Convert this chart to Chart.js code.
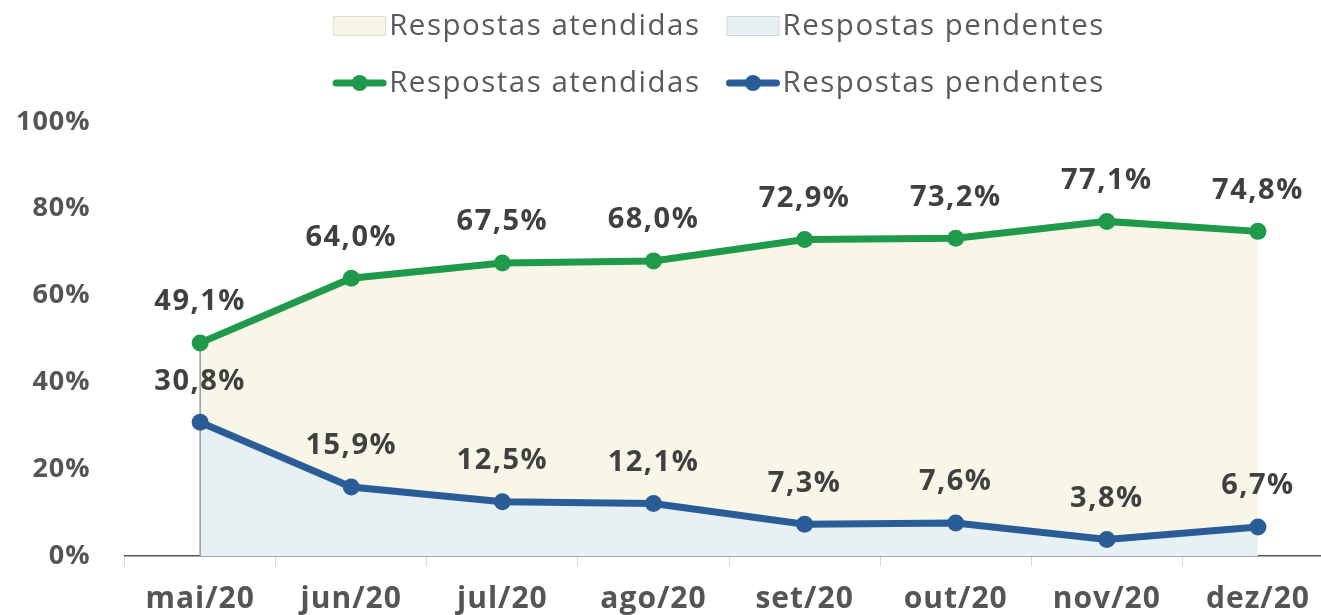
<!DOCTYPE html>
<html lang="pt-BR">

<head>
  <meta charset="UTF-8" />
  <title>Respostas atendidas x pendentes</title>
  <script src="https://cdn.jsdelivr.net/npm/chart.js"></script>
  <style>
    html,
    body {
      margin: 0;
      padding: 0;
      overflow: hidden;
      background: #fff;
    }
  </style>
</head>

<body>
  <canvas id="myChart01" width="1342" height="615"></canvas>

  <script>
    // dados
    const meses = ["mai/20", "jun/20", "jul/20", "ago/20", "set/20", "out/20", "nov/20", "dez/20"];
    const atendidas = [49.1, 64.0, 67.5, 68.0, 72.9, 73.2, 77.1, 74.8];
    const pendentes = [30.8, 15.9, 12.5, 12.1, 7.3, 7.6, 3.8, 6.7];
    const yTicks = [0, 20, 40, 60, 80, 100];

    const verde = "#1f9a4a";
    const azul = "#2a5d98";
    const areaAmarela = "#f8f6e6";
    const areaAzul = "#e7f0f2";
    const fonte = "'Open Sans', 'Noto Sans', sans-serif";

    function fmt(v) {
      return v.toFixed(1).replace(".", ",") + "%";
    }

    // legenda desenhada a mao (2 linhas)
    const legendaItens = [
      [
        { text: "Respostas atendidas", tipo: "box", cor: areaAmarela },
        { text: "Respostas pendentes", tipo: "box", cor: areaAzul },
      ],
      [
        { text: "Respostas atendidas", tipo: "linha", cor: verde },
        { text: "Respostas pendentes", tipo: "linha", cor: azul },
      ],
    ];

    // espacamento de letras (fonte original mais larga)
    const espacoPlugin = {
      id: "espacoPlugin",
      beforeInit(chart) {
        chart.ctx.letterSpacing = "1px";
      },
      beforeDraw(chart) {
        chart.ctx.letterSpacing = "1px";
      },
    };

    const legendaPlugin = {
      id: "legendaPlugin",
      afterDraw(chart) {
        const ctx = chart.ctx;
        ctx.save();
        ctx.font = "29.5px " + fonte;
        ctx.letterSpacing = "1.5px";
        ctx.textBaseline = "middle";
        ctx.textAlign = "left";
        const rowsY = [26, 83];
        const marker = 53;
        const gapTxt = 3;
        const gapItem = 26;
        const cx = 719;
        legendaItens.forEach((row, r) => {
          let total = 0;
          row.forEach((it, i) => {
            it.w = ctx.measureText(it.text).width;
            total += marker + gapTxt + it.w + (i > 0 ? gapItem : 0);
          });
          let x = cx - total / 2;
          const y = rowsY[r];
          row.forEach((it) => {
            if (it.tipo === "box") {
              ctx.fillStyle = it.cor;
              ctx.fillRect(x, y - 10, marker, 20);
              ctx.strokeStyle = "rgba(0,0,0,0.10)";
              ctx.lineWidth = 1;
              ctx.strokeRect(x + 0.5, y - 9.5, marker - 1, 19);
            } else {
              ctx.strokeStyle = it.cor;
              ctx.lineWidth = 7;
              ctx.lineCap = "round";
              ctx.beginPath();
              ctx.moveTo(x + 3, y);
              ctx.lineTo(x + marker - 3, y);
              ctx.stroke();
              ctx.fillStyle = it.cor;
              ctx.beginPath();
              ctx.arc(x + marker / 2, y, 8, 0, Math.PI * 2);
              ctx.fill();
            }
            ctx.fillStyle = "#5a5a5a";
            ctx.fillText(it.text, x + marker + gapTxt, y + 1);
            x += marker + gapTxt + it.w + gapItem;
          });
        });
        ctx.restore();
      },
    };

    // linha cinza vertical no primeiro ponto
    const bordaPlugin = {
      id: "bordaPlugin",
      beforeDatasetDraw(chart, args) {
        if (args.index !== 3) return;
        const ctx = chart.ctx;
        const x = chart.scales.x.getPixelForValue(0);
        const yTop = chart.scales.y.getPixelForValue(atendidas[0]);
        ctx.save();
        ctx.strokeStyle = "#9a9a9a";
        ctx.lineWidth = 1.5;
        ctx.beginPath();
        ctx.moveTo(x, yTop);
        ctx.lineTo(x, chart.chartArea.bottom);
        ctx.stroke();
        ctx.restore();
      },
    };

    // rotulos dos valores
    const rotulosPlugin = {
      id: "rotulosPlugin",
      afterDatasetsDraw(chart) {
        const ctx = chart.ctx;
        ctx.save();
        ctx.font = "bold 29px " + fonte;
        ctx.letterSpacing = "1.5px";
        ctx.fillStyle = "#404040";
        ctx.textAlign = "center";
        ctx.textBaseline = "middle";
        [2, 3].forEach((i) => {
          const meta = chart.getDatasetMeta(i);
          const valores = chart.data.datasets[i].data;
          meta.data.forEach((pt, j) => {
            ctx.fillText(fmt(valores[j]), pt.x, pt.y - 41);
          });
        });
        ctx.restore();
      },
    };

    const ctx01 = document.getElementById("myChart01");
    const mychart01 = new Chart(ctx01, {
      type: "line",
      data: {
        labels: meses,
        datasets: [
          {
            label: "Respostas atendidas",
            data: atendidas,
            fill: "+1",
            backgroundColor: areaAmarela,
            borderWidth: 0,
            pointRadius: 0,
            order: 1,
          },
          {
            label: "Respostas pendentes",
            data: pendentes,
            fill: "origin",
            backgroundColor: areaAzul,
            borderWidth: 0,
            pointRadius: 0,
            order: 1,
          },
          {
            label: "Respostas atendidas",
            data: atendidas,
            fill: false,
            borderColor: verde,
            backgroundColor: verde,
            borderWidth: 7,
            pointRadius: 8.5,
            pointBorderWidth: 0,
            pointBackgroundColor: verde,
            order: 0,
          },
          {
            label: "Respostas pendentes",
            data: pendentes,
            fill: false,
            borderColor: azul,
            backgroundColor: azul,
            borderWidth: 7,
            pointRadius: 8.5,
            pointBorderWidth: 0,
            pointBackgroundColor: azul,
            order: 0,
          },
        ],
      },
      options: {
        responsive: false,
        animation: false,
        layout: {
          padding: { top: 122, left: 0, right: 0, bottom: 0 },
        },
        plugins: {
          legend: { display: false },
          tooltip: { enabled: false },
        },
        scales: {
          x: {
            offset: true,
            grid: {
              offset: true,
              drawOnChartArea: false,
              drawTicks: true,
              tickLength: 10,
              color: "#d6d6d6",
            },
            border: { display: true, color: "#555", width: 1.5 },
            ticks: {
              color: "#555",
              font: { family: fonte, size: 30, weight: "bold" },
              padding: 15,
              maxRotation: 0,
            },
            afterFit(scale) {
              scale.height = 59;
            },
          },
          y: {
            min: 0,
            max: 100,
            grid: { display: false },
            border: { display: false },
            afterBuildTicks(scale) {
              scale.ticks = yTicks.map((v) => ({ value: v }));
            },
            ticks: {
              color: "#555",
              font: { family: fonte, size: 27, weight: "bold" },
              padding: 26,
              callback: (v) => v + "%",
            },
            afterFit(scale) {
              scale.width = 124.6;
            },
          },
        },
      },
      plugins: [espacoPlugin, bordaPlugin, rotulosPlugin, legendaPlugin],
    });
  </script>
</body>

</html>
